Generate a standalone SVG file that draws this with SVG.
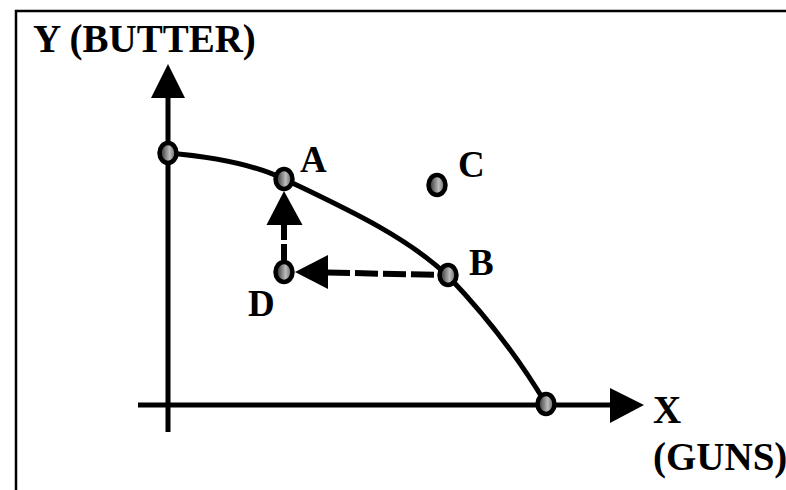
<svg xmlns="http://www.w3.org/2000/svg" width="786" height="490" viewBox="0 0 786 490">
<style>
.lbl{font-family:"Liberation Serif","Times New Roman",serif;font-weight:bold;fill:#000}
.ax{fill:none;stroke:#000;stroke-width:5}
.dot{fill:url(#g);stroke:#000;stroke-width:4.5}
.head{fill:#000}
</style>
<defs>
<linearGradient id="g" x1="0" y1="0" x2="1" y2="0">
<stop offset="0" stop-color="#222"/>
<stop offset="0.6" stop-color="#bdbdbd"/>
<stop offset="1" stop-color="#555"/>
</linearGradient>
</defs>
<rect x="0" y="0" width="786" height="490" fill="#fff"/>
<rect x="16" y="11" width="800" height="500" fill="none" stroke="#000" stroke-width="2.5"/>
<g id="axes">
<line class="ax" x1="168" y1="96" x2="168" y2="432"/>
<polygon class="head" points="168,64 151,98 185,98"/>
<line class="ax" x1="138" y1="405" x2="612" y2="405"/>
<polygon class="head" points="644,405 610,388 610,423"/>
</g>
<g id="curve">
<path d="M168,153 C215,157 255,165 284,179 C340,206 405,235 448,276 C490,320 520,360 546,404" fill="none" stroke="#000" stroke-width="5"/>
</g>
<g id="connectors">
<line x1="327" y1="272.5" x2="440" y2="275" stroke="#000" stroke-width="6" stroke-dasharray="23 5"/>
<polygon class="head" points="295,272 328,255 328,289"/>
<line x1="284" y1="224" x2="284" y2="262" stroke="#000" stroke-width="6" stroke-dasharray="16 4"/>
<polygon class="head" points="284,191 266.5,225 302.5,225"/>
</g>
<g id="p0"><ellipse class="dot" cx="168" cy="153" rx="8.5" ry="10"/></g>
<g id="pA"><ellipse class="dot" cx="284" cy="179" rx="8.5" ry="10"/><text class="lbl" x="300" y="172" font-size="37">A</text></g>
<g id="pC"><ellipse class="dot" cx="437" cy="185" rx="8.5" ry="10"/><text class="lbl" x="458" y="177" font-size="37">C</text></g>
<g id="pB"><ellipse class="dot" cx="448" cy="275" rx="8.5" ry="10"/><text class="lbl" x="469" y="275" font-size="37">B</text></g>
<g id="pD"><ellipse class="dot" cx="284" cy="272" rx="8.5" ry="10"/><text class="lbl" x="248" y="316" font-size="37">D</text></g>
<g id="pX"><ellipse class="dot" cx="546" cy="404" rx="8.5" ry="10"/></g>
<g id="ylabel"><text class="lbl" x="33" y="52" font-size="39">Y (BUTTER)</text></g>
<g id="xlabel"><text class="lbl" x="653" y="423" font-size="39">X</text><text class="lbl" x="653" y="470" font-size="39">(GUNS)</text></g>
</svg>
